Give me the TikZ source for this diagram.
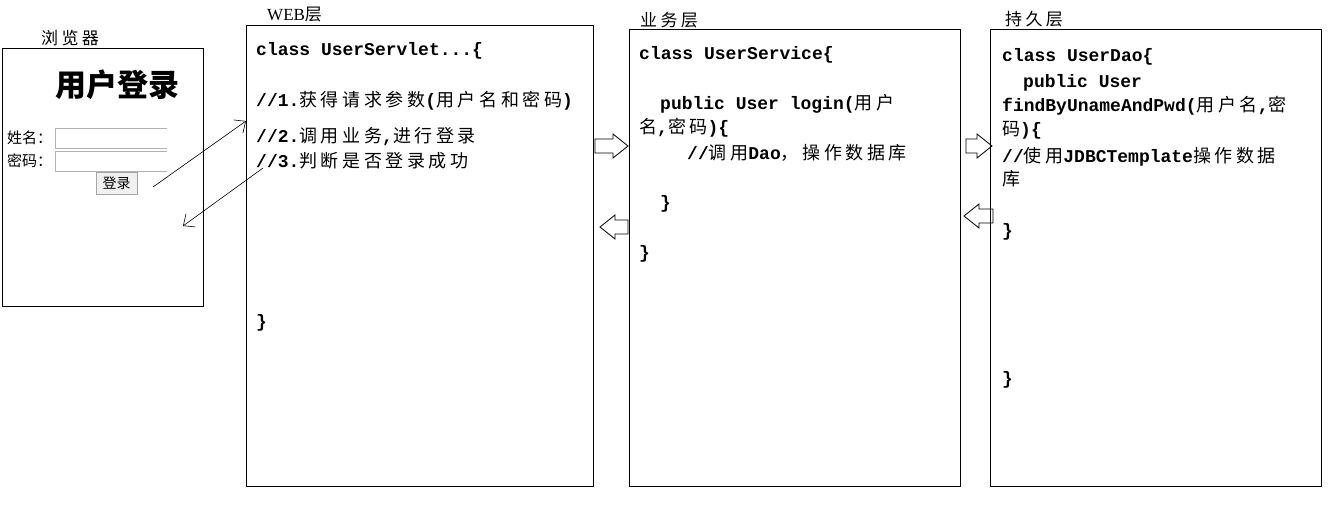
\documentclass[tikz,border=0pt]{standalone}
\usepackage{fontspec}
\setmainfont{Liberation Mono}
\newfontfamily\cjk{Noto Sans CJK SC}[LetterSpace=20]
\newfontfamily\cjkui{Noto Sans CJK SC}
\newfontfamily\webfont{Liberation Serif}
\newcommand{\zh}[1]{{\cjk\mdseries #1}}
\usepackage{tikz}
\usetikzlibrary{positioning}
\usetikzlibrary{calc}
\usetikzlibrary{arrows.meta}
\tikzset{
  layerbox/.style={draw, line width=1pt, anchor=north west, inner sep=0pt},
  layertitle/.style={anchor=base west, inner sep=0pt, font=\fontsize{17}{20}\selectfont\cjk},
  codeline/.style={anchor=base west, inner sep=0pt, font=\fontsize{18}{22}\selectfont\bfseries},
  formlabel/.style={anchor=base west, inner sep=0pt, font=\fontsize{15}{18}\selectfont\cjkui},
  pics/fatarrow/.style={code={\draw[line width=0.8pt] (0,-7) -- ({#1-15},-7) -- ({#1-15},-12) -- (#1,0) -- ({#1-15},12) -- ({#1-15},7) -- (0,7) -- cycle;}}
}

\begin{document}
\begin{tikzpicture}[x=1pt, y=-1pt, >={Straight Barb[length=9pt, width=16pt]}]
\useasboundingbox (0,0) rectangle (1331,506);
\node[layerbox, minimum width=201pt, minimum height=258pt] (browser) at (2,48) {};
\node[layerbox, minimum width=347pt, minimum height=461pt] (web) at (246,25) {};
\node[layerbox, minimum width=331pt, minimum height=457pt] (service) at (629,29) {};
\node[layerbox, minimum width=331pt, minimum height=457pt] (dao) at (990,29) {};
\node[layertitle] (tbrowser) at (41,44) {浏览器};
\node[layertitle] (tweb) at (267,20) {{\webfont WEB}层};
\node[layertitle] (tservice) at (640,27) {业务层};
\node[layertitle] (tdao) at (1005,25) {持久层};

\node[font=\fontsize{31}{34}\selectfont\cjkui\bfseries] (formtitle) at (117,85) {用户登录};
\node[formlabel] (uname) at (7,143) {姓名：};
\node[formlabel] (pwd) at (7,166) {密码：};
\draw[gray!60, line width=1pt] (167,128) -| (55,148) -- (167,148);
\draw[gray!60, line width=1pt] (167,151) -| (55,171) -- (167,171);
\node[draw=gray!70, fill=gray!12, minimum width=41pt, minimum height=22pt, inner sep=0pt, font=\fontsize{14}{16}\selectfont\cjkui] (loginbtn) at (116.5,183) {登录};

\coordinate (submit) at (153,187);
\coordinate (webin) at (246,121);
\coordinate (webout) at (263,168);
\coordinate (reply) at (183,226);
\draw[->, line width=0.6pt] (submit) -- (webin);
\draw[->, line width=0.6pt] (webout) -- (reply);

\node[codeline] (w1) at (256,55) {class UserServlet...\{};
\node[codeline] (w2) at (256,106) {//1.\zh{获得请求参数}(\zh{用户名和密码})};
\node[codeline] (w3) at (256,142) {//2.\zh{调用业务},\zh{进行登录}};
\node[codeline] (w4) at (256,167) {//3.\zh{判断是否登录成功}};
\node[codeline] (w5) at (256,327) {\}};

\node[codeline] (s1) at (639,59) {class UserService\{};
\node[codeline] (s2) at (660,109) {public User login(\zh{用户}};
\node[codeline] (s3) at (639,133) {\zh{名},\zh{密码})\{};
\node[codeline] (s4) at (687,159) {//\zh{调用}Dao\zh{，操作数据库}};
\node[codeline] (s5) at (660,208) {\}};
\node[codeline] (s6) at (639,258) {\}};

\node[codeline] (d1) at (1002,61) {class UserDao\{};
\node[codeline] (d2) at (1023,87) {public User};
\node[codeline] (d3) at (1002,111) {findByUnameAndPwd(\zh{用户名},\zh{密}};
\node[codeline] (d4) at (1002,135) {\zh{码})\{};
\node[codeline] (d5) at (1002,162) {//\zh{使用}JDBCTemplate\zh{操作数据}};
\node[codeline] (d6) at (1002,185) {\zh{库}};
\node[codeline] (d7) at (1002,236) {\}};
\node[codeline] (d8) at (1002,384) {\}};

\pic at (595,146) {fatarrow=33};
\pic[xscale=-1] at (628,227) {fatarrow=28};
\pic at (966,146) {fatarrow=26};
\pic[xscale=-1] at (993,216) {fatarrow=29};
\end{tikzpicture}
\end{document}
